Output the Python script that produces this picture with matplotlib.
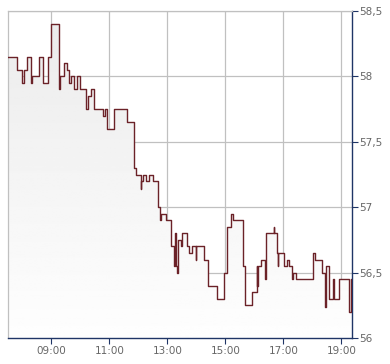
import numpy as np
import matplotlib.pyplot as plt
from matplotlib.patches import PathPatch
from matplotlib.path import Path

# intraday price ticks (step chart), time "HH:MM" -> price
times = ['07:30', '07:49', '08:00', '08:04', '08:09', '08:18', '08:20', '08:35',
         '08:43', '08:52', '09:00', '09:15', '09:17', '09:26', '09:33', '09:36',
         '09:40', '09:47', '09:53', '10:00', '10:12', '10:16', '10:22', '10:29',
         '10:47', '10:51', '10:55', '11:09', '11:36', '11:51', '11:56', '12:05',
         '12:06', '12:10', '12:15', '12:22', '12:31', '12:40', '12:45', '12:47',
         '12:58', '13:07', '13:14', '13:16', '13:17', '13:19', '13:22', '13:29',
         '13:31', '13:40', '13:45', '13:51', '13:59', '14:00', '14:16', '14:25',
         '14:42', '14:58', '15:03', '15:11', '15:16', '15:37', '15:40', '15:56',
         '16:05', '16:06', '16:07', '16:13', '16:23', '16:24', '16:40', '16:41',
         '16:47', '16:48', '16:49', '17:01', '17:07', '17:12', '17:17', '17:19',
         '17:20', '17:27', '18:02', '18:06', '18:20', '18:27', '18:29', '18:35',
         '18:43', '18:44', '18:55', '19:15', '19:21', '19:22']
prices = [58.15, 58.05, 57.95, 58.05, 58.15, 57.95, 58.00, 58.15,
          57.95, 58.15, 58.40, 57.90, 58.00, 58.10, 58.05, 57.95,
          58.00, 57.90, 58.00, 57.90, 57.75, 57.85, 57.90, 57.75,
          57.70, 57.75, 57.60, 57.75, 57.65, 57.30, 57.25, 57.14,
          57.20, 57.25, 57.20, 57.25, 57.20, 57.00, 56.90, 56.95,
          56.90, 56.70, 56.55, 56.80, 56.55, 56.50, 56.75, 56.70,
          56.80, 56.70, 56.65, 56.70, 56.60, 56.70, 56.60, 56.40,
          56.30, 56.50, 56.85, 56.95, 56.90, 56.55, 56.25, 56.35,
          56.55, 56.40, 56.55, 56.60, 56.45, 56.80, 56.85, 56.80,
          56.65, 56.55, 56.65, 56.55, 56.60, 56.55, 56.50, 56.45,
          56.50, 56.45, 56.65, 56.60, 56.50, 56.24, 56.55, 56.30,
          56.45, 56.30, 56.45, 56.20, 56.45, 56.45]

xticks = [9, 11, 13, 15, 17, 19]
yticks = [56, 56.5, 57, 57.5, 58, 58.5]


def to_hours(s):
    h, m = s.split(':')
    return int(h) + int(m) / 60.0


def main():
    x = np.array([to_hours(t) for t in times])
    y = np.array(prices)

    fig = plt.figure(figsize=(3.9, 3.64), dpi=100)
    ax = fig.add_axes([8 / 390, 26 / 364, 344 / 390, 327 / 364])
    xmin, xmax = 7.5, 19.37
    ymin, ymax = 56, 58.5

    # gradient fill under the step line
    xs = np.repeat(x, 2)[1:]
    ys = np.repeat(y, 2)[:-1]
    xs = np.append(xs, xmax)
    ys = np.append(ys, y[-1])
    verts = [(xs[0], ymin)] + list(zip(xs, ys)) + [(xs[-1], ymin)]
    poly = PathPatch(Path(verts), facecolor='none', edgecolor='none')
    ax.add_patch(poly)
    grad = np.linspace(0.92, 0.995, 256).reshape(-1, 1)
    im = ax.imshow(grad, cmap='gray', vmin=0, vmax=1, aspect='auto',
                   extent=[xmin, xmax, ymin, ymax], origin='upper', zorder=1)
    im.set_clip_path(poly)

    ax.plot(xs, ys, color='#6b2228', lw=1.0, zorder=3)

    ax.set_xlim(xmin, xmax)
    ax.set_ylim(ymin, ymax)
    ax.set_xticks(xticks)
    ax.set_xticklabels(['%02d:00' % h for h in xticks])
    ax.set_yticks(yticks)
    ax.set_yticklabels([('%g' % v).replace('.', ',') for v in yticks])
    ax.yaxis.tick_right()
    ax.grid(True, color='#c0c0c0', lw=0.9, zorder=0)
    ax.set_axisbelow(True)

    for side in ['top', 'left']:
        ax.spines[side].set_color('#c0c0c0')
        ax.spines[side].set_linewidth(0.9)
    for side in ['right', 'bottom']:
        ax.spines[side].set_color('#1f3566')
        ax.spines[side].set_linewidth(1.0)
    ax.tick_params(axis='both', colors='#1f3566', length=4, width=0.8,
                   labelsize=7.5, labelcolor='#666666', pad=2)
    ax.tick_params(axis='y', pad=1)

    fig.savefig('out.png', dpi=100)


if __name__ == '__main__':
    main()
